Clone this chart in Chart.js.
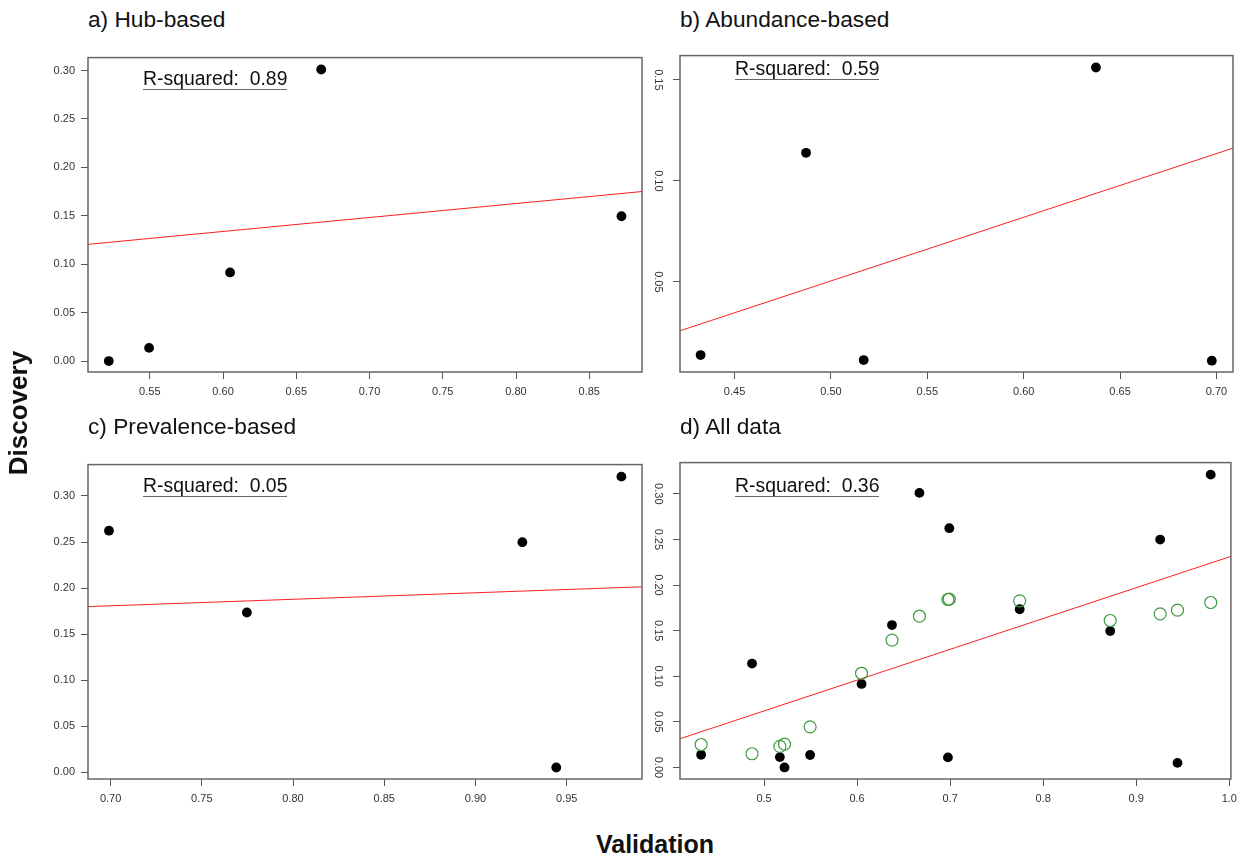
<!DOCTYPE html>
<html>
<head>
<meta charset="utf-8">
<script src="https://cdn.jsdelivr.net/npm/chart.js@4.4.1/dist/chart.umd.min.js"></script>
<style>
  body { margin: 0; background: #fff; }
  #wrap { position: relative; width: 1241px; height: 859px; background: #fff; font-family: "Liberation Sans", Arial, sans-serif; color: #111; }
  .cv { position: absolute; }
  .title { position: absolute; font-size: 22.7px; line-height: 1; white-space: nowrap; }
  .rsq { position: absolute; font-size: 19.4px; line-height: 1; white-space: nowrap; }
  .rsq span { display: inline-block; padding-bottom: 1.5px; border-bottom: 1.5px solid #666; }
  .axlab { position: absolute; font-size: 25px; font-weight: bold; line-height: 1; white-space: nowrap; text-align: center; }
</style>
</head>
<body>
<div id="wrap">
  <canvas id="cA" class="cv"></canvas>
  <canvas id="cB" class="cv"></canvas>
  <canvas id="cC" class="cv"></canvas>
  <canvas id="cD" class="cv"></canvas>

  <div class="title" style="left:88px;top:8px">a) Hub-based</div>
  <div class="title" style="left:680px;top:8px">b) Abundance-based</div>
  <div class="title" style="left:88px;top:415px">c) Prevalence-based</div>
  <div class="title" style="left:680px;top:415px">d) All data</div>

  <div class="rsq" style="left:143px;top:68.5px"><span>R-squared:&nbsp; 0.89</span></div>
  <div class="rsq" style="left:735px;top:58.5px"><span>R-squared:&nbsp; 0.59</span></div>
  <div class="rsq" style="left:143px;top:475.5px"><span>R-squared:&nbsp; 0.05</span></div>
  <div class="rsq" style="left:735px;top:475.5px"><span>R-squared:&nbsp; 0.36</span></div>

  <div class="axlab" style="left:-82px;top:400px;width:200px;font-size:26px;transform:rotate(-90deg)">Discovery</div>
  <div class="axlab" style="left:555px;top:832px;width:200px">Validation</div>
</div>

<script>
// observed points (validation, discovery)
const hubX = [0.522, 0.5495, 0.6048, 0.667, 0.872];
const hubY = [0.000, 0.0136, 0.0915, 0.301, 0.1495];
const abundX = [0.4324, 0.4871, 0.517, 0.6375, 0.6976];
const abundY = [0.0138, 0.1139, 0.0113, 0.1561, 0.011];
const prevX = [0.6991, 0.7747, 0.9257, 0.9443, 0.980];
const prevY = [0.2623, 0.1734, 0.2498, 0.005, 0.321];
// green open circles in d), same order as hub, abund, prev
const allPredY = [0.0256, 0.0445, 0.1032, 0.1658, 0.1611,
                  0.0251, 0.015, 0.023, 0.1396, 0.1841,
                  0.1845, 0.1826, 0.1684, 0.1724, 0.1808];

// red fitted lines, end points at the axis limits
const lineAX = [0.5078, 0.886], lineAY = [0.1205, 0.175];
const lineBX = [0.4217, 0.7086], lineBY = [0.0258, 0.1162];
const lineCX = [0.6876, 0.9913], lineCY = [0.1798, 0.2013];
const lineDX = [0.4097, 1.0017], lineDY = [0.0314, 0.2314];

// axis limits and ticks
const xRangeA = [0.5078, 0.886], yRangeA = [-0.0113, 0.3133];
const xRangeB = [0.4217, 0.7086], yRangeB = [0.0054, 0.162];
const xRangeC = [0.6876, 0.9913], yRangeC = [-0.0075, 0.3341];
const xRangeD = [0.4097, 1.0017], yRangeD = [-0.0127, 0.3342];
const xTicksA = [0.55, 0.60, 0.65, 0.70, 0.75, 0.80, 0.85];
const xTicksB = [0.45, 0.50, 0.55, 0.60, 0.65, 0.70];
const xTicksC = [0.70, 0.75, 0.80, 0.85, 0.90, 0.95];
const xTicksD = [0.5, 0.6, 0.7, 0.8, 0.9, 1.0];
const yTicksA = [0.00, 0.05, 0.10, 0.15, 0.20, 0.25, 0.30];
const yTicksB = [0.05, 0.10, 0.15];
const yTicksC = [0.00, 0.05, 0.10, 0.15, 0.20, 0.25, 0.30];
const yTicksD = [0.00, 0.05, 0.10, 0.15, 0.20, 0.25, 0.30];

const pts = (xs, ys) => xs.map((x, i) => ({ x: x, y: ys[i] }));

const LEFT = 70, TOP = 10, RIGHT = 10, BOTTOM = 50;

const frame = {
  id: 'frame',
  afterDatasetsDraw(chart) {
    const a = chart.chartArea, ctx = chart.ctx;
    ctx.save();
    ctx.strokeStyle = '#666';
    ctx.lineWidth = 1.5;
    ctx.strokeRect(a.left, a.top, a.right - a.left, a.bottom - a.top);
    ctx.restore();
  }
};

function makePanel(id, box, opts) {
  const cv = document.getElementById(id);
  const w = box[2] - box[0] + LEFT + RIGHT;
  const h = box[3] - box[1] + TOP + BOTTOM;
  cv.width = w; cv.height = h;
  cv.style.left = (box[0] - LEFT) + 'px';
  cv.style.top = (box[1] - TOP) + 'px';

  const datasets = [];
  if (opts.green) {
    datasets.push({ data: opts.green, pointRadius: 6, pointBorderWidth: 1.2,
      pointBorderColor: '#3f9a3f', pointBackgroundColor: 'rgba(0,0,0,0)', showLine: false });
  }
  datasets.push({ data: opts.black, pointRadius: 4.9, pointBorderWidth: 0,
    pointBackgroundColor: '#000', showLine: false });
  datasets.push({ data: opts.line, showLine: true, borderColor: '#ff2020', borderWidth: 1,
    pointRadius: 0 });

  const tickFont = { family: 'Liberation Sans', size: 11 };
  new Chart(cv, {
    type: 'scatter',
    data: { datasets: datasets },
    plugins: [frame],
    options: {
      responsive: false,
      animation: false,
      layout: { padding: { left: 0, top: TOP, right: RIGHT, bottom: 0 } },
      plugins: { legend: { display: false }, tooltip: { enabled: false } },
      scales: {
        x: {
          type: 'linear', min: opts.xr[0], max: opts.xr[1],
          afterBuildTicks: s => { s.ticks = opts.xt.map(v => ({ value: v })); },
          afterFit: s => { s.height = BOTTOM; },
          grid: { drawOnChartArea: false, drawTicks: true, tickLength: 7, tickColor: '#555', tickWidth: 1 },
          border: { display: false },
          ticks: { font: tickFont, color: '#333', padding: 6, maxRotation: 0,
            callback: v => v.toFixed(opts.xd) }
        },
        y: {
          type: 'linear', min: opts.yr[0], max: opts.yr[1],
          afterBuildTicks: s => { s.ticks = opts.yt.map(v => ({ value: v })); },
          afterFit: s => { s.width = LEFT; },
          grid: { drawOnChartArea: false, drawTicks: true, tickLength: 7, tickColor: '#555', tickWidth: 1 },
          border: { display: false },
          ticks: opts.vert
            ? { font: tickFont, color: '#333', padding: 4, minRotation: -90, maxRotation: -90,
                crossAlign: 'center', callback: v => v.toFixed(2) }
            : { font: tickFont, color: '#333', padding: 6, callback: v => v.toFixed(2) }
        }
      }
    }
  });
}

makePanel('cA', [88, 55, 642, 372], {
  black: pts(hubX, hubY), line: pts(lineAX, lineAY),
  xr: xRangeA, yr: yRangeA, xt: xTicksA, yt: yTicksA, xd: 2, vert: false
});
makePanel('cB', [680, 55, 1233, 372], {
  black: pts(abundX, abundY), line: pts(lineBX, lineBY),
  xr: xRangeB, yr: yRangeB, xt: xTicksB, yt: yTicksB, xd: 2, vert: true
});
makePanel('cC', [88, 462, 642, 779], {
  black: pts(prevX, prevY), line: pts(lineCX, lineCY),
  xr: xRangeC, yr: yRangeC, xt: xTicksC, yt: yTicksC, xd: 2, vert: false
});
const allX = hubX.concat(abundX, prevX);
const allY = hubY.concat(abundY, prevY);
makePanel('cD', [680, 462, 1233, 779], {
  black: pts(allX, allY), green: pts(allX, allPredY), line: pts(lineDX, lineDY),
  xr: xRangeD, yr: yRangeD, xt: xTicksD, yt: yTicksD, xd: 1, vert: true
});
</script>
</body>
</html>
